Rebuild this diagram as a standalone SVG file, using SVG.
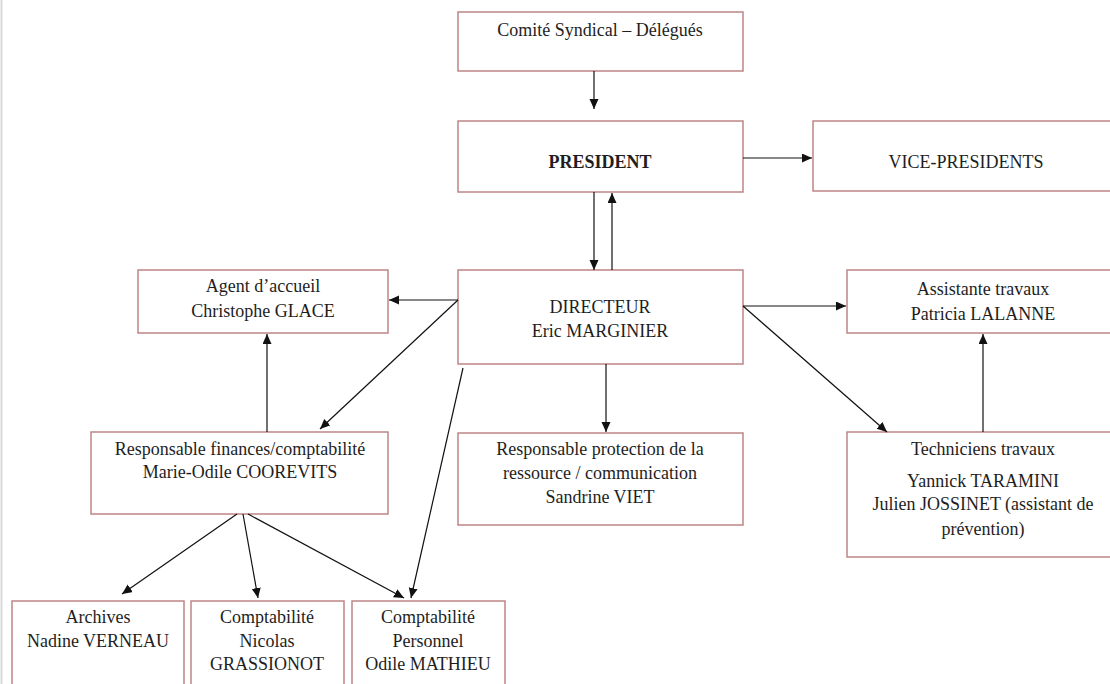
<svg xmlns="http://www.w3.org/2000/svg" width="1110" height="684" viewBox="0 0 1110 684">
<style>
.box{fill:#fff;stroke:#bf8585;stroke-width:1.5}
.t{font-family:'Liberation Serif','Times New Roman','DejaVu Serif',serif;font-size:18px;fill:#1e1e1e;text-anchor:middle}
.b{font-weight:bold}
.c{stroke:#111;stroke-width:1.2;fill:none;marker-end:url(#ah)}
</style>
<defs>
<marker id="ah" markerUnits="userSpaceOnUse" markerWidth="12" markerHeight="10" refX="10" refY="4.5" orient="auto">
<path d="M0,0 L10,4.5 L0,9 Z" fill="#111"/>
</marker>
</defs>
<rect x="0" y="0" width="1110" height="684" fill="#fff"/>
<line x1="1.5" y1="0" x2="1.5" y2="684" stroke="#d9d9d9" stroke-width="2"/>

<g id="comite"><rect class="box" x="458" y="12" width="285" height="59"/><text class="t" x="600" y="36" font-family="Liberation Serif, serif">Comité Syndical – Délégués</text></g>
<g id="president"><rect class="box" x="458" y="121" width="285" height="71"/><text class="t b" x="600" y="168" font-family="Liberation Serif, serif">PRESIDENT</text></g>
<g id="vice"><rect class="box" x="813" y="121" width="300" height="70"/><text class="t" x="966" y="168" font-family="Liberation Serif, serif">VICE-PRESIDENTS</text></g>
<g id="directeur" font-family="Liberation Serif, serif"><rect class="box" x="458" y="270" width="285" height="94"/><text class="t" x="600" y="313">DIRECTEUR</text><text class="t" x="600" y="337">Eric MARGINIER</text></g>
<g id="agent"><rect class="box" x="138" y="270" width="250" height="63"/><text class="t" x="263" y="292">Agent d’accueil</text><text class="t" x="263" y="317">Christophe GLACE</text></g>
<g id="assistante"><rect class="box" x="847" y="270" width="266" height="63"/><text class="t" x="983" y="295">Assistante travaux</text><text class="t" x="983" y="320">Patricia LALANNE</text></g>
<g id="finances"><rect class="box" x="91" y="432" width="297" height="82"/><text class="t" x="240" y="455">Responsable finances/comptabilité</text><text class="t" x="240" y="478">Marie-Odile COOREVITS</text></g>
<g id="protection"><rect class="box" x="458" y="433" width="285" height="92"/><text class="t" x="600" y="455">Responsable protection de la</text><text class="t" x="600" y="479">ressource / communication</text><text class="t" x="600" y="503">Sandrine VIET</text></g>
<g id="techniciens"><rect class="box" x="847" y="432" width="266" height="125"/><text class="t" x="983" y="455">Techniciens travaux</text><text class="t" x="983" y="487">Yannick TARAMINI</text><text class="t" x="983" y="510">Julien JOSSINET (assistant de</text><text class="t" x="983" y="535">prévention)</text></g>
<g id="archives"><rect class="box" x="12" y="601" width="172" height="90"/><text class="t" x="98" y="623">Archives</text><text class="t" x="98" y="647">Nadine VERNEAU</text></g>
<g id="compta-nicolas"><rect class="box" x="191" y="601" width="153" height="90"/><text class="t" x="267" y="623">Comptabilité</text><text class="t" x="267" y="647">Nicolas</text><text class="t" x="267" y="670">GRASSIONOT</text></g>
<g id="compta-personnel"><rect class="box" x="352" y="601" width="153" height="90"/><text class="t" x="428" y="623">Comptabilité</text><text class="t" x="428" y="647">Personnel</text><text class="t" x="428" y="670">Odile MATHIEU</text></g>

<g id="connectors">
<line class="c" x1="594" y1="71" x2="594" y2="109"/>
<line class="c" x1="743" y1="158" x2="812" y2="158"/>
<line class="c" x1="594" y1="192" x2="594" y2="270"/>
<line class="c" x1="612" y1="270" x2="612" y2="193"/>
<line class="c" x1="458" y1="300" x2="389" y2="300"/>
<line class="c" x1="458" y1="300" x2="320" y2="429"/>
<line class="c" x1="267" y1="432" x2="267" y2="334"/>
<line class="c" x1="463" y1="368" x2="411" y2="598"/>
<line class="c" x1="606" y1="364" x2="606" y2="432"/>
<line class="c" x1="743" y1="306" x2="846" y2="306"/>
<line class="c" x1="743" y1="306" x2="887" y2="432"/>
<line class="c" x1="983" y1="432" x2="983" y2="334"/>
<line class="c" x1="237" y1="514" x2="122" y2="594"/>
<line class="c" x1="243" y1="514" x2="258" y2="598"/>
<line class="c" x1="248" y1="514" x2="404" y2="598"/>
</g>
</svg>
